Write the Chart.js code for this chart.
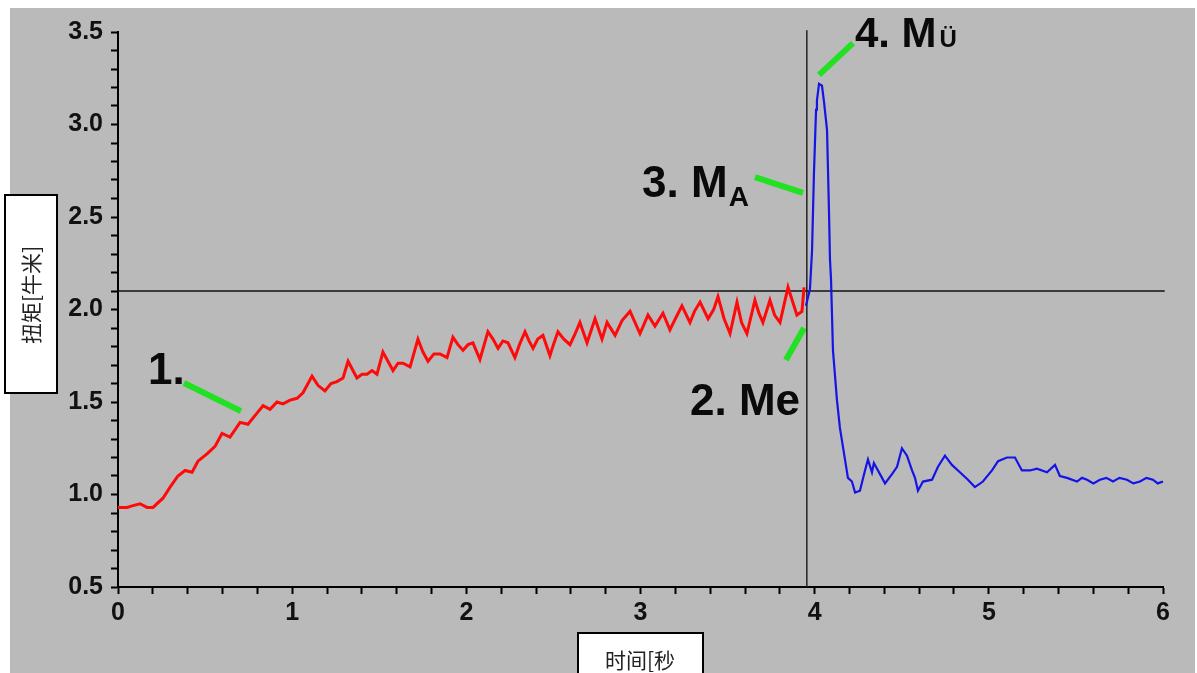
<!DOCTYPE html>
<html>
<head>
<meta charset="utf-8">
<script src="https://cdn.jsdelivr.net/npm/chart.js@4"></script>
<style>
  body { margin: 0; background: #fff; }
  canvas { display: block; }
</style>
</head>
<body>
<canvas id="grafico" width="1197" height="673"></canvas>
<script>
// fase 1 e 2: subida do torque (vermelho)
const tempoSubida = [0, 0.052, 0.086, 0.126, 0.167, 0.201, 0.258, 0.299, 0.344, 0.385, 0.425, 0.459, 0.511, 0.557, 0.597, 0.643, 0.701, 0.746, 0.798, 0.833, 0.873, 0.913, 0.947, 0.988, 1.028, 1.062, 1.114, 1.148, 1.188, 1.223, 1.257, 1.292, 1.321, 1.349, 1.372, 1.401, 1.430, 1.458, 1.487, 1.521, 1.550, 1.579, 1.608, 1.636, 1.677, 1.722, 1.751, 1.780, 1.814, 1.849, 1.889, 1.923, 1.952, 1.981, 2.010, 2.038, 2.078, 2.124, 2.153, 2.182, 2.210, 2.239, 2.279, 2.305, 2.337, 2.360, 2.383, 2.410, 2.440, 2.480, 2.500, 2.526, 2.560, 2.595, 2.625, 2.652, 2.693, 2.739, 2.779, 2.808, 2.854, 2.894, 2.940, 2.997, 3.020, 3.043, 3.083, 3.129, 3.169, 3.200, 3.238, 3.284, 3.310, 3.342, 3.388, 3.420, 3.445, 3.480, 3.514, 3.554, 3.580, 3.611, 3.657, 3.680, 3.703, 3.743, 3.770, 3.801, 3.847, 3.898, 3.927, 3.939];
const torqueSubida = [0.93, 0.93, 0.94, 0.95, 0.93, 0.93, 0.98, 1.04, 1.10, 1.13, 1.12, 1.18, 1.22, 1.26, 1.33, 1.31, 1.39, 1.38, 1.44, 1.48, 1.46, 1.50, 1.49, 1.51, 1.52, 1.55, 1.64, 1.59, 1.56, 1.60, 1.61, 1.63, 1.72, 1.67, 1.63, 1.65, 1.65, 1.67, 1.65, 1.77, 1.72, 1.67, 1.71, 1.71, 1.69, 1.84, 1.77, 1.72, 1.76, 1.76, 1.74, 1.85, 1.81, 1.78, 1.81, 1.82, 1.73, 1.88, 1.84, 1.79, 1.83, 1.82, 1.74, 1.81, 1.88, 1.83, 1.79, 1.84, 1.86, 1.75, 1.81, 1.88, 1.84, 1.81, 1.87, 1.93, 1.82, 1.95, 1.84, 1.93, 1.86, 1.94, 1.99, 1.87, 1.92, 1.97, 1.91, 1.98, 1.89, 1.95, 2.02, 1.93, 1.99, 2.04, 1.95, 2.00, 2.07, 1.95, 1.87, 2.04, 1.93, 1.87, 2.05, 1.98, 1.93, 2.05, 1.97, 1.93, 2.12, 1.97, 1.99, 2.12];

// fase 3 e 4: pico e oscilação (azul)
const tempoPico = [3.950, 3.973, 3.985, 3.996, 4.008, 4.013, 4.025, 4.042, 4.054, 4.071, 4.082, 4.088, 4.094, 4.105, 4.128, 4.145, 4.174, 4.191, 4.214, 4.232, 4.260, 4.289, 4.306, 4.329, 4.340, 4.375, 4.404, 4.444, 4.473, 4.501, 4.530, 4.559, 4.576, 4.593, 4.622, 4.674, 4.708, 4.748, 4.788, 4.834, 4.880, 4.920, 4.966, 5.018, 5.053, 5.104, 5.150, 5.190, 5.236, 5.276, 5.334, 5.380, 5.408, 5.449, 5.506, 5.535, 5.564, 5.600, 5.638, 5.675, 5.713, 5.750, 5.793, 5.830, 5.868, 5.905, 5.942, 5.970, 6.0];
const torquePico = [2.02, 2.11, 2.32, 2.74, 3.08, 3.13, 3.22, 3.21, 3.12, 2.97, 2.54, 2.27, 2.16, 1.78, 1.51, 1.36, 1.19, 1.09, 1.07, 1.01, 1.02, 1.13, 1.19, 1.12, 1.17, 1.11, 1.06, 1.11, 1.15, 1.25, 1.21, 1.13, 1.09, 1.02, 1.07, 1.08, 1.15, 1.21, 1.16, 1.12, 1.08, 1.04, 1.07, 1.13, 1.18, 1.20, 1.20, 1.13, 1.13, 1.14, 1.12, 1.16, 1.10, 1.09, 1.07, 1.09, 1.08, 1.06, 1.08, 1.09, 1.07, 1.09, 1.08, 1.06, 1.07, 1.09, 1.08, 1.06, 1.07];

// linhas de referência
const limiteTorque = 2.1;
const tempoEvento = 3.955;

// marcações verdes: [x1, y1, x2, y2]
const marcaX1 = [0.379, 3.939, 3.657, 4.220];
const marcaY1 = [1.603, 1.900, 2.716, 3.440];
const marcaX2 = [0.706, 3.835, 3.933, 4.025];
const marcaY2 = [1.451, 1.727, 2.630, 3.268];

// textos das marcações
const rotulos = ['1.', '2. Me', '3. M', '4. M'];
const indices = ['', '', 'A', 'Ü'];
const rotuloX = [0.172, 3.284, 3.009, 4.231];
const rotuloY = [1.597, 1.430, 2.608, 3.419];

const tituloY = '扭矩[牛米]';
const tituloX = '时间[秒';

const pares = (xs, ys) => xs.map((x, i) => ({ x: x, y: ys[i] }));

const VERDE = '#22e022';
const datasets = [
  { data: pares(tempoSubida, torqueSubida), borderColor: '#ff0a0a', borderWidth: 3 },
  { data: pares(tempoPico, torquePico), borderColor: '#1414e6', borderWidth: 2.2 },
  { data: [{ x: 0, y: limiteTorque }, { x: 6.01, y: limiteTorque }], borderColor: '#111', borderWidth: 1.5 },
  { data: [{ x: tempoEvento, y: 0.5 }, { x: tempoEvento, y: 3.51 }], borderColor: '#222', borderWidth: 1.5 }
];
marcaX1.forEach((x, i) => {
  datasets.push({
    data: [{ x: x, y: marcaY1[i] }, { x: marcaX2[i], y: marcaY2[i] }],
    borderColor: VERDE, borderWidth: 6, borderCapStyle: 'butt'
  });
});
datasets.forEach(d => { d.pointRadius = 0; d.tension = 0; d.fill = false; d.clip = false; });

const fundo = {
  id: 'fundo',
  beforeDraw(chart) {
    const c = chart.ctx;
    c.save();
    c.fillStyle = '#fff';
    c.fillRect(0, 0, chart.width, chart.height);
    c.fillStyle = '#bababa';
    c.fillRect(10, 8, 1185, chart.height - 8);
    c.restore();
  }
};

const anotacoes = {
  id: 'anotacoes',
  afterDraw(chart) {
    const c = chart.ctx;
    const sx = chart.scales.x, sy = chart.scales.y;
    c.save();
    c.fillStyle = '#0a0a0a';
    c.textBaseline = 'alphabetic';
    c.textAlign = 'left';
    rotulos.forEach((t, i) => {
      const px = sx.getPixelForValue(rotuloX[i]);
      const py = sy.getPixelForValue(rotuloY[i]);
      const tam = i === 3 ? 42 : 44;
      c.font = 'bold ' + tam + 'px "Liberation Sans", Arial, sans-serif';
      c.fillText(t, px, py);
      const w = c.measureText(t).width;
      if (indices[i] === 'A') {
        c.font = 'bold 28px "Liberation Sans", Arial, sans-serif';
        c.fillText('A', px + w + 1, py + 9);
      } else if (indices[i]) {
        c.font = 'bold 24px "Liberation Sans", Arial, sans-serif';
        c.fillText(indices[i], px + w + 3, py);
      }
    });

    // caixas dos títulos dos eixos
    c.fillStyle = '#fff';
    c.strokeStyle = '#000';
    c.lineWidth = 2;
    c.fillRect(5, 195, 52, 198);
    c.strokeRect(5, 195, 52, 198);
    c.fillRect(578, 633, 125, 50);
    c.strokeRect(578, 633, 125, 50);

    c.fillStyle = '#222';
    c.font = '21px "Noto Sans CJK SC", sans-serif';
    c.textAlign = 'center';
    c.textBaseline = 'middle';
    c.fillText(tituloX, 640, 660);
    c.translate(31, 295);
    c.rotate(-Math.PI / 2);
    c.fillText(tituloY, 0, 0);
    c.restore();
  }
};

const fonteTicks = { family: '"Liberation Sans", Arial, sans-serif', size: 25, weight: 'bold' };
const perto = (v, passo) => Math.abs(v / passo - Math.round(v / passo)) < 1e-6;

new Chart(document.getElementById('grafico').getContext('2d'), {
  type: 'line',
  data: { datasets: datasets },
  options: {
    responsive: false,
    animation: false,
    devicePixelRatio: 1,
    layout: { padding: { left: 0, top: 32, right: 34, bottom: 0 } },
    plugins: { legend: { display: false }, tooltip: { enabled: false } },
    scales: {
      x: {
        type: 'linear', min: 0, max: 6,
        afterFit(scale) { scale.height = 86; },
        border: { display: true, color: '#000', width: 2 },
        grid: { drawOnChartArea: false, drawTicks: true, tickLength: 7, tickWidth: 2, tickColor: '#000' },
        ticks: {
          stepSize: 0.2, autoSkip: false, maxRotation: 0, padding: 4,
          color: '#111', font: fonteTicks,
          callback: v => perto(v, 1) ? String(Math.round(v)) : ''
        }
      },
      y: {
        type: 'linear', min: 0.5, max: 3.5,
        afterFit(scale) { scale.width = 118; },
        border: { display: true, color: '#000', width: 2 },
        grid: { drawOnChartArea: false, drawTicks: true, tickLength: 7, tickWidth: 2, tickColor: '#000' },
        ticks: {
          stepSize: 0.1, autoSkip: false, padding: 8,
          color: '#111', font: fonteTicks,
          callback: v => perto(v, 0.5) ? v.toFixed(1) : ''
        }
      }
    }
  },
  plugins: [fundo, anotacoes]
});
</script>
</body>
</html>
